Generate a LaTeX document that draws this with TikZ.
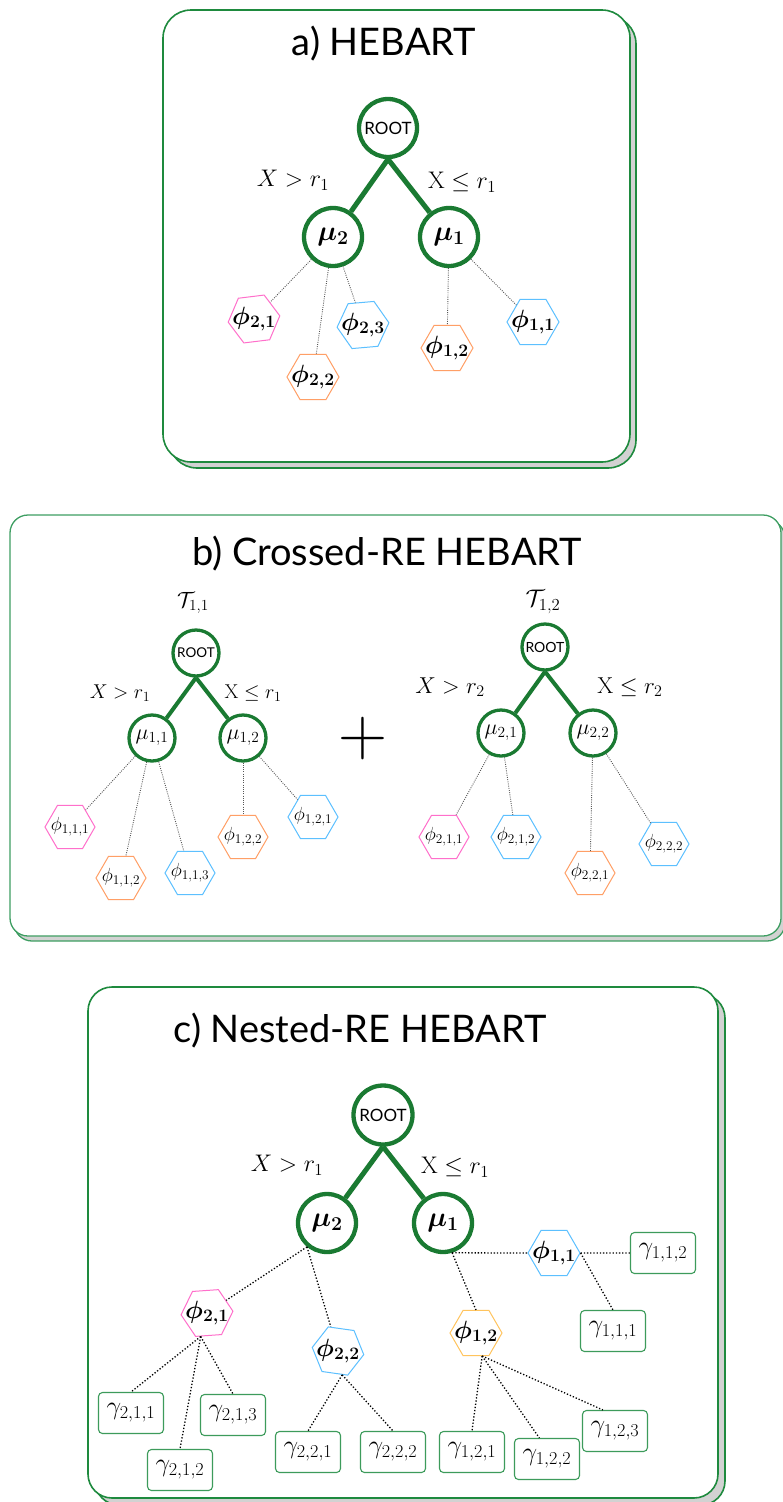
\RequirePackage{fix-cm}
\documentclass[tikz,border=0pt]{standalone}
\usepackage{amsmath}
\usepackage[no-math]{fontspec}
\setmainfont{Lato}
\usetikzlibrary{shapes.geometric}

\definecolor{pgreen}{HTML}{1E8A3E}
\definecolor{pgreenlt}{HTML}{3E9E62}
\definecolor{tgreen}{HTML}{1A7A32}
\definecolor{shadowgray}{HTML}{D2D2D2}
\definecolor{hpink}{HTML}{FF6FCB}
\definecolor{horange}{HTML}{FF9F66}
\definecolor{hblue}{HTML}{5CC0FF}
\definecolor{hyellow}{HTML}{FFC45E}
\definecolor{gbox}{HTML}{3D9B5B}
\definecolor{dotgray}{HTML}{555555}

% zero-width label so the hexagon size is set by minimum size only
\newcommand\hexlabel[1]{\makebox[0pt]{$#1$}}

\tikzset{
  paneltitle/.style={font=\fontsize{38}{44}\selectfont, inner sep=0pt, anchor=base},
  tcirc/.style={circle, draw=tgreen, fill=white, inner sep=0pt},
  circA/.style={tcirc, line width=4.3pt, minimum size=58pt},
  circB/.style={tcirc, line width=3.3pt, minimum size=46pt},
  branchA/.style={draw=tgreen, line width=5pt},
  branchB/.style={draw=tgreen, line width=4pt},
  hexa/.style={regular polygon, regular polygon sides=6, draw=#1, fill=white,
    inner sep=0pt, line width=1pt},
  hexA/.style={hexa=#1, minimum size=52pt, font=\fontsize{25}{30}\selectfont},
  hexB/.style={hexa=#1, minimum size=50pt, font=\fontsize{19}{23}\selectfont},
  leafline/.style={draw=dotgray, line width=0.9pt, dash pattern=on 0.9pt off 1.3pt},
  leaflineC/.style={draw=black, line width=1.3pt, dash pattern=on 1.3pt off 1.9pt},
  gam/.style={draw=gbox, rounded corners=4pt, minimum width=65pt, minimum height=41pt,
    inner sep=0pt, line width=1.1pt, fill=white, font=\fontsize{26}{30}\selectfont},
  condA/.style={inner sep=0pt, font=\fontsize{24}{28}\selectfont},
  condB/.style={inner sep=0pt, font=\fontsize{20}{24}\selectfont},
  condBr/.style={inner sep=0pt, font=\fontsize{23}{27}\selectfont},
  shadowbox/.style={fill=shadowgray, draw=pgreen, line width=1.6pt},
  panelbox/.style={fill=white, draw=pgreen, line width=1.6pt},
}

\begin{document}
\begin{tikzpicture}[x=1pt, y=-1pt]
\useasboundingbox (0,0) rectangle (782,1502);

% ---------------- panel a ----------------
\draw[shadowbox, rounded corners=28pt] (169,16) rectangle (636,468);
\draw[panelbox, rounded corners=28pt] (163,10) rectangle (630,462);
\node[paneltitle] (titleA) at (384,55) {a) HEBART};

\node[circA, font=\fontsize{17}{20}\selectfont] (rootA) at (388,128) {ROOT};
\node[circA, font=\fontsize{28}{32}\selectfont] (muAa) at (333,237) {$\boldsymbol{\mu_2}$};
\node[circA, font=\fontsize{28}{32}\selectfont] (muAb) at (449,237) {$\boldsymbol{\mu_1}$};
\node[condA] (cAl) at (293,180) {$X > r_1$};
\node[condA] (cAr) at (462,182) {$\mathrm{X} \leq r_1$};

\node[hexA=hpink, regular polygon rotate=7] (pA21) at (254,319) {\hexlabel{\boldsymbol{\phi_{2,1}}}};
\node[hexA=horange] (pA22) at (313,377) {\hexlabel{\boldsymbol{\phi_{2,2}}}};
\node[hexA=hblue, regular polygon rotate=5] (pA23) at (363,325) {\hexlabel{\boldsymbol{\phi_{2,3}}}};
\node[hexA=horange] (pA12) at (447,348) {\hexlabel{\boldsymbol{\phi_{1,2}}}};
\node[hexA=hblue] (pA11) at (533,322) {\hexlabel{\boldsymbol{\phi_{1,1}}}};

\draw[branchA] (rootA.south) -- (muAa);
\draw[branchA] (rootA.south) -- (muAb);
\draw[leafline] (muAa) -- (pA21);
\draw[leafline] (muAa) -- (pA22);
\draw[leafline] (muAa) -- (pA23);
\draw[leafline] (muAb) -- (pA12);
\draw[leafline] (muAb) -- (pA11);

% ---------------- panel b ----------------
\draw[shadowbox, draw=pgreenlt, line width=1.3pt, rounded corners=18pt] (14,520) rectangle (785,941);
\draw[panelbox, draw=pgreenlt, line width=1.3pt, rounded corners=18pt] (10,515) rectangle (781,936);
\node[paneltitle] (titleB) at (387,565) {b) Crossed-RE HEBART};

% first tree
\node[inner sep=0pt, font=\fontsize{22}{26}\selectfont] (T11) at (193,603) {$\mathcal{T}_{1,1}$};
\node[circB, font=\fontsize{13.5}{16}\selectfont] (rootB1) at (196,653) {ROOT};
\node[circB, font=\fontsize{22}{26}\selectfont] (muB11) at (152,738) {$\mu_{1,1}$};
\node[circB, font=\fontsize{22}{26}\selectfont] (muB12) at (243,738) {$\mu_{1,2}$};
\node[condB] (cB1l) at (120,693) {$X > r_1$};
\node[condB] (cB1r) at (253,693) {$\mathrm{X} \leq r_1$};

\node[hexB=hpink] (qB111) at (70,827) {\hexlabel{\phi_{1,1,1}}};
\node[hexB=horange] (qB112) at (121,878) {\hexlabel{\phi_{1,1,2}}};
\node[hexB=hblue] (qB113) at (190,873) {\hexlabel{\phi_{1,1,3}}};
\node[hexB=horange] (qB122) at (243,837) {\hexlabel{\phi_{1,2,2}}};
\node[hexB=hblue] (qB121) at (313,817) {\hexlabel{\phi_{1,2,1}}};

\draw[branchB] (rootB1.south) -- (muB11);
\draw[branchB] (rootB1.south) -- (muB12);
\draw[leafline] (muB11) -- (qB111);
\draw[leafline] (muB11) -- (qB112);
\draw[leafline] (muB11) -- (qB113);
\draw[leafline] (muB12) -- (qB122);
\draw[leafline] (muB12) -- (qB121);

\node[inner sep=0pt, font=\fontsize{68}{72}\selectfont] (plus) at (363,738) {$+$};

% second tree
\node[inner sep=0pt, font=\fontsize{24}{28}\selectfont] (T12) at (543,602) {$\mathcal{T}_{1,2}$};
\node[circB, font=\fontsize{14}{17}\selectfont] (rootB2) at (545,647) {ROOT};
\node[circB, font=\fontsize{22}{26}\selectfont] (muB21) at (501,733) {$\mu_{2,1}$};
\node[circB, font=\fontsize{22}{26}\selectfont] (muB22) at (593,733) {$\mu_{2,2}$};
\node[condBr] (cB2l) at (450,687) {$X > r_2$};
\node[condBr] (cB2r) at (630,687) {$\mathrm{X} \leq r_2$};

\node[hexB=hpink] (qB211) at (444,837) {\hexlabel{\phi_{2,1,1}}};
\node[hexB=hblue] (qB212) at (516,837) {\hexlabel{\phi_{2,1,2}}};
\node[hexB=horange] (qB221) at (590,873) {\hexlabel{\phi_{2,2,1}}};
\node[hexB=hblue] (qB222) at (664,844) {\hexlabel{\phi_{2,2,2}}};

\draw[branchB] (rootB2.south) -- (muB21);
\draw[branchB] (rootB2.south) -- (muB22);
\draw[leafline] (muB21) -- (qB211);
\draw[leafline] (muB21) -- (qB212);
\draw[leafline] (muB22) -- (qB221);
\draw[leafline] (muB22) -- (qB222);

% ---------------- panel c ----------------
\draw[shadowbox, rounded corners=24pt] (95,994) rectangle (725,1505);
\draw[panelbox, rounded corners=24pt] (88,987) rectangle (718,1498);
\node[paneltitle] (titleC) at (360,1042) {c) Nested-RE HEBART};

\node[circA, minimum size=59pt, font=\fontsize{17}{20}\selectfont] (rootC) at (383,1115) {ROOT};
\node[circA, font=\fontsize{28}{32}\selectfont] (muC2) at (327,1223) {$\boldsymbol{\mu_2}$};
\node[circA, font=\fontsize{28}{32}\selectfont] (muC1) at (443,1223) {$\boldsymbol{\mu_1}$};
\node[condA] (cCl) at (287,1165) {$X > r_1$};
\node[condA] (cCr) at (455,1167) {$\mathrm{X} \leq r_1$};

\node[hexA=hpink, regular polygon rotate=4] (rC21) at (207,1313) {\hexlabel{\boldsymbol{\phi_{2,1}}}};
\node[hexA=hblue, regular polygon rotate=-8] (rC22) at (338,1351) {\hexlabel{\boldsymbol{\phi_{2,2}}}};
\node[hexA=hblue] (rC11) at (554,1253) {\hexlabel{\boldsymbol{\phi_{1,1}}}};
\node[hexA=hyellow] (rC12) at (476,1333) {\hexlabel{\boldsymbol{\phi_{1,2}}}};

\node[gam] (g211) at (131,1413) {$\gamma_{2,1,1}$};
\node[gam] (g212) at (180,1470) {$\gamma_{2,1,2}$};
\node[gam] (g213) at (233,1415) {$\gamma_{2,1,3}$};
\node[gam] (g221) at (308,1452) {$\gamma_{2,2,1}$};
\node[gam] (g222) at (393,1452) {$\gamma_{2,2,2}$};
\node[gam] (g112) at (663,1253) {$\gamma_{1,1,2}$};
\node[gam] (g111) at (613,1331) {$\gamma_{1,1,1}$};
\node[gam] (g121) at (472,1452) {$\gamma_{1,2,1}$};
\node[gam] (g122) at (547,1459) {$\gamma_{1,2,2}$};
\node[gam] (g123) at (615,1431) {$\gamma_{1,2,3}$};

\draw[branchA] (rootC.south) -- (muC2);
\draw[branchA] (rootC.south) -- (muC1);

\draw[leaflineC] (muC2.-130) -- (rC21);
\draw[leaflineC] (muC2.-130) -- (rC22);
\draw[leaflineC] (rC21.-105) -- (g211.north);
\draw[leaflineC] (rC21.-105) -- (g212.north);
\draw[leaflineC] (rC21.-105) -- (g213.north);
\draw[leaflineC] (rC22.-80) -- (g221.north);
\draw[leaflineC] (rC22.-80) -- (g222.north);

\draw[leaflineC] (muC1.-73) -- (rC11.west);
\draw[leaflineC] (muC1.-73) -- (rC12.north);
\draw[leaflineC] (rC11.east) -- (g112.west);
\draw[leaflineC] (rC11.east) -- (g111.north);
\draw[leaflineC] (rC12.-75) -- (g121.north);
\draw[leaflineC] (rC12.-75) -- (g122.110);
\draw[leaflineC] (rC12.-75) -- (g123.120);
\end{tikzpicture}
\end{document}
